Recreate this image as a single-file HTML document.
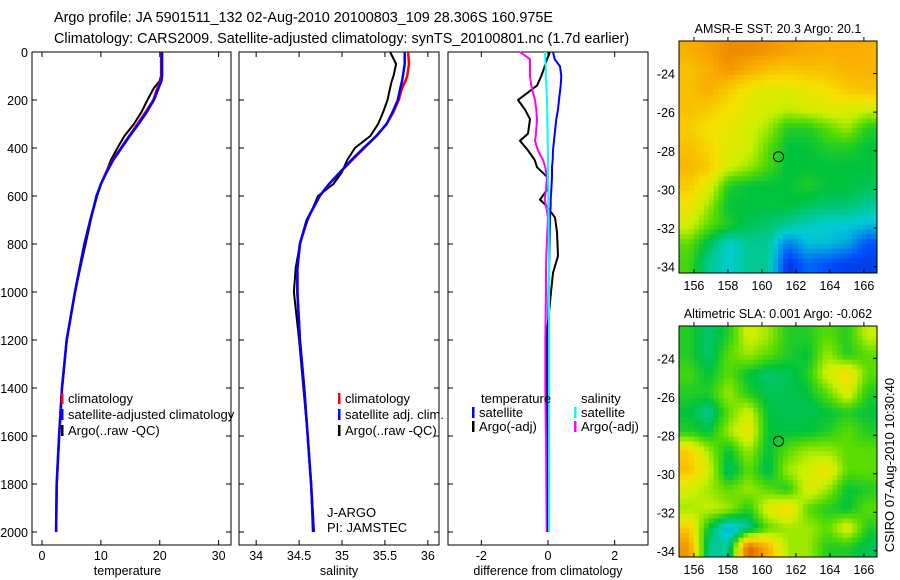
<!DOCTYPE html>
<html><head><meta charset="utf-8"><style>
body{margin:0;background:#fff;}
svg{display:block;font-family:"Liberation Sans",sans-serif;}
</style></head><body>
<svg id="fig" width="900" height="580" viewBox="0 0 900 580">
<text x="54" y="22" font-size="14.4">Argo profile: JA 5901511_132 02-Aug-2010 20100803_109 28.306S 160.975E</text>
<text x="54" y="43" font-size="14.4">Climatology: CARS2009. Satellite-adjusted climatology: synTS_20100801.nc (1.7d earlier)</text>
<text transform="translate(894,465) rotate(-90)" font-size="13" text-anchor="middle">CSIRO 07-Aug-2010 10:30:40</text>
</svg>
<script>
// ---- profile data ----
const depth = [0,50,100,120,150,200,250,300,350,400,450,500,550,600,700,800,900,1000,1200,1400,1600,1800,2000];
const tempClim = [20.3,20.3,20.3,20.2,19.6,18.9,17.6,16.2,14.8,13.4,12.0,10.9,10.0,9.3,8.2,7.2,6.4,5.6,4.2,3.4,2.9,2.5,2.4];
const tempSat  = [20.4,20.4,20.4,20.3,19.8,19.0,17.8,16.4,14.9,13.5,12.1,11.0,10.0,9.3,8.2,7.2,6.4,5.6,4.2,3.4,2.9,2.5,2.4];
const tempArgo = [20.2,20.2,20.2,20.0,19.0,17.9,16.9,15.6,14.0,12.8,11.7,10.9,10.0,9.2,8.3,7.4,6.5,5.6,4.2,3.4,2.9,2.5,2.4];
const salClim = [35.77,35.78,35.76,35.74,35.70,35.66,35.60,35.52,35.40,35.26,35.12,34.98,34.85,34.74,34.59,34.51,34.48,34.48,34.51,34.56,34.60,34.64,34.67];
const salSat  = [35.73,35.73,35.71,35.70,35.68,35.65,35.59,35.52,35.40,35.25,35.11,34.98,34.85,34.74,34.59,34.51,34.48,34.48,34.51,34.56,34.60,34.64,34.67];
const salArgo = [35.56,35.63,35.60,35.58,35.56,35.53,35.48,35.42,35.33,35.15,35.06,35.00,34.90,34.72,34.60,34.51,34.46,34.44,34.50,34.55,34.60,34.64,34.66];
const diffDepth = [0,30,60,100,140,200,240,280,340,370,410,450,480,520,575,615,640,690,750,850,920,1000,1200,1400,1600,1800,2000];
const dTempSat  = [0.15,0.2,0.36,0.4,0.38,0.33,0.3,0.25,0.2,0.18,0.15,0.14,0.12,0.12,0.1,0.08,0.08,0.06,0.05,0.04,0.03,0.02,0,0,0,0,0];
const dTempArgo = [0.06,-0.03,-0.1,-0.2,-0.33,-0.9,-0.69,-0.54,-0.6,-0.84,-0.6,-0.4,-0.33,-0.03,-0.03,-0.24,-0.05,0.21,0.27,0.3,0.15,0.09,-0.05,-0.04,-0.03,-0.02,0];
const dSalSat   = [-0.09,-0.08,-0.07,-0.06,-0.05,-0.03,-0.02,-0.02,-0.01,-0.01,0,0,0,0,0.01,0.01,0.01,0.02,0.02,0.03,0.03,0.03,0.03,0.03,0.03,0.03,0.03];
const dSalArgo  = [-0.84,-0.54,-0.54,-0.54,-0.5,-0.39,-0.35,-0.33,-0.36,-0.39,-0.3,-0.15,-0.08,-0.03,-0.06,-0.1,-0.06,0,-0.02,-0.05,-0.06,-0.06,-0.08,-0.08,-0.06,-0.05,-0.04];
const depthTicks = [0,200,400,600,800,1000,1200,1400,1600,1800,2000];
const tempTicks = [0,10,20,30];
const salTicks = [34,34.5,35,35.5,36];
const salTickLabels = ["34","34.5","35","35.5","36"];
const diffTicks = [-2,0,2];
// ---- map data (0..1 colour index) ----
const lonTicks = [156,158,160,162,164,166];
const latTicks = [-24,-26,-28,-30,-32,-34];
const sstGrid = [
[0.75,0.78,0.82,0.82,0.8,0.78,0.76,0.75,0.76,0.75],
[0.72,0.75,0.8,0.75,0.72,0.7,0.72,0.72,0.74,0.74],
[0.72,0.76,0.7,0.65,0.62,0.62,0.64,0.66,0.7,0.72],
[0.72,0.7,0.66,0.62,0.6,0.58,0.6,0.62,0.62,0.6],
[0.7,0.66,0.64,0.6,0.55,0.45,0.45,0.5,0.55,0.45],
[0.72,0.68,0.62,0.6,0.5,0.42,0.42,0.45,0.45,0.42],
[0.74,0.7,0.6,0.55,0.48,0.42,0.42,0.42,0.42,0.42],
[0.7,0.62,0.45,0.42,0.42,0.42,0.45,0.42,0.42,0.4],
[0.65,0.55,0.42,0.42,0.42,0.42,0.4,0.38,0.38,0.35],
[0.6,0.5,0.45,0.4,0.38,0.35,0.32,0.3,0.3,0.28],
[0.5,0.4,0.3,0.35,0.35,0.2,0.28,0.28,0.25,0.15],
[0.48,0.35,0.3,0.35,0.35,0.1,0.18,0.15,0.12,0.12]];
const slaGrid = [
[0.45,0.38,0.45,0.6,0.55,0.45,0.45,0.5,0.45,0.58],
[0.45,0.38,0.5,0.55,0.5,0.45,0.42,0.55,0.45,0.5],
[0.48,0.42,0.5,0.42,0.38,0.4,0.45,0.6,0.68,0.5],
[0.45,0.45,0.55,0.45,0.4,0.4,0.42,0.5,0.62,0.45],
[0.42,0.35,0.5,0.6,0.42,0.4,0.4,0.42,0.45,0.42],
[0.45,0.42,0.55,0.65,0.42,0.42,0.42,0.45,0.5,0.45],
[0.7,0.55,0.42,0.55,0.42,0.5,0.55,0.55,0.5,0.5],
[0.72,0.6,0.38,0.5,0.4,0.55,0.6,0.65,0.5,0.5],
[0.6,0.55,0.5,0.55,0.5,0.45,0.62,0.55,0.42,0.45],
[0.55,0.58,0.55,0.45,0.62,0.68,0.5,0.45,0.42,0.5],
[0.7,0.42,0.25,0.35,0.5,0.55,0.55,0.5,0.62,0.45],
[0.8,0.35,0.35,0.9,0.75,0.55,0.55,0.45,0.45,0.4]];
const argoLon = 160.975, argoLat = -28.306;

const NS="http://www.w3.org/2000/svg";
const svg=document.getElementById('fig');
function mk(tag,attrs,parent){const e=document.createElementNS(NS,tag);for(const k in attrs)e.setAttribute(k,attrs[k]);(parent||svg).appendChild(e);return e;}
function txt(x,y,s,size,anchor,parent){const t=mk('text',{x:x,y:y,'font-size':size,'text-anchor':anchor||'start'},parent);t.textContent=s;return t;}

const PT=52,PB=545;
const yD=d=>PT+d*0.24;
function panel(name,x0,x1,xmin,xmax,ticks,labels,xlabel,showY){
  const g=mk('g',{});
  
  
  const sx=v=>x0+(v-xmin)/(xmax-xmin)*(x1-x0);
  const fr=mk('rect',{x:x0,y:PT,width:x1-x0,height:PB-PT,fill:'none',stroke:'#000','stroke-width':1},g);
  
  
  ticks.forEach((t,i)=>{const x=sx(t);
    mk('line',{x1:x,x2:x,y1:PT,y2:PT+5,stroke:'#000'},g);
    mk('line',{x1:x,x2:x,y1:PB,y2:PB-5,stroke:'#000'},g);
    const l=txt(x,560,labels[i],12.5,'middle',g);
    
    });
  depthTicks.forEach(d=>{const y=yD(d);
    mk('line',{x1:x0,x2:x0+5,y1:y,y2:y,stroke:'#000'},g);
    mk('line',{x1:x1,x2:x1-5,y1:y,y2:y,stroke:'#000'},g);
    if(showY){const l=txt(28,y+5,String(d),12.5,'end',g);
      
      }});
  const xl=txt((x0+x1)/2+(name==='temperature-panel'?-4:0),575,xlabel,12.5,'middle',g);
  
  
  return {g,sx};
}
function series(p,ds,vals,color,w,name){
  const pts=ds.map((d,i)=>p.sx(vals[i]).toFixed(1)+','+yD(d).toFixed(1)).join(' ');
  const l=mk('polyline',{points:pts,fill:'none',stroke:color,'stroke-width':w,'stroke-linejoin':'round'},p.g);
  
  
}
function legend(g,x,y,color,label,name){
  if(color){mk('rect',{x:x,y:y-10,width:2.5,height:11,fill:color},g);}
  const t=txt(x+7,y,label,13,'start',g);
  
  
}
const defs=mk('defs',{});
const clip=mk('clipPath',{id:'c1'},defs);mk('rect',{x:0,y:0,width:239,height:580},clip);
// Panel 1
const p1=panel('temperature-panel',32,231,-1.7,32.1,tempTicks,tempTicks.map(String),'temperature',true);
series(p1,depth,tempArgo,'#000',2,'temp-argo-line');
series(p1,depth,tempClim,'#f00',2.5,'temp-climatology-line');
series(p1,depth,tempSat,'#00f',2.5,'temp-satellite-line');
const lg1=mk('g',{'clip-path':'url(#c1)'},p1.g);
legend(lg1,61,403,'#f00','climatology','legend-climatology');
legend(lg1,61,419,'#00f','satellite-adjusted climatology','legend-satellite-adjusted');
legend(lg1,61,435,'#000','Argo(..raw -QC)','legend-argo-raw');
// Panel 2
const p2=panel('salinity-panel',239,439,33.8,36.13,salTicks,salTickLabels,'salinity',false);
series(p2,depth,salArgo,'#000',2,'sal-argo-line');
series(p2,depth,salClim,'#f00',2.5,'sal-climatology-line');
series(p2,depth,salSat,'#00f',2.5,'sal-satellite-line');
legend(p2.g,338,403,'#f00','climatology','legend-sal-climatology');
legend(p2.g,338,419,'#00f','satellite adj. clim.','legend-sal-satellite');
legend(p2.g,338,435,'#000','Argo(..raw -QC)','legend-sal-argo');
legend(p2.g,320,517,null,'J-ARGO','j-argo-label');
legend(p2.g,320,532,null,'PI: JAMSTEC','pi-label');
// Panel 3
const p3=panel('difference-panel',448,648,-3,3,diffTicks,diffTicks.map(String),'difference from climatology',false);
mk('line',{x1:p3.sx(0),x2:p3.sx(0),y1:yD(280),y2:yD(620),stroke:'#000','stroke-dasharray':'1,3'},p3.g);
series(p3,diffDepth,dTempArgo,'#000',2,'diff-temp-argo-line');
series(p3,diffDepth,dSalArgo,'#f0f',2,'diff-sal-argo-line');
series(p3,diffDepth,dTempSat,'#00f',2,'diff-temp-satellite-line');
series(p3,diffDepth,dSalSat,'#0ff',2,'diff-sal-satellite-line');
legend(p3.g,474,403,null,'temperature','legend-temperature-header');
legend(p3.g,472,417,'#00f','satellite','legend-temp-satellite');
legend(p3.g,472,431,'#000','Argo(-adj)','legend-temp-argo');
legend(p3.g,574,403,null,'salinity','legend-salinity-header');
legend(p3.g,574,417,'#0ff','satellite','legend-sal-satellite-diff');
legend(p3.g,574,431,'#f0f','Argo(-adj)','legend-sal-argo-diff');

// colormap
const cstops=[[0,[0,0,140]],[0.15,[0,80,255]],[0.3,[0,205,210]],[0.42,[0,195,60]],[0.5,[90,220,0]],[0.58,[200,240,0]],[0.66,[245,225,0]],[0.76,[250,170,0]],[0.88,[225,110,0]],[1,[150,0,0]]];
function cmap(v){for(let i=1;i<cstops.length;i++){if(v<=cstops[i][0]){const a=cstops[i-1],b=cstops[i],f=(v-a[0])/(b[0]-a[0]);return 'rgb('+a[1].map((c,k)=>Math.round(c+(b[1][k]-c)*f)).join(',')+')';}}return 'rgb(150,0,0)';}
function sample(grid,fr,fc){
  const R=grid.length,C=grid[0].length;
  let r=Math.min(Math.max(fr,0),R-1),c=Math.min(Math.max(fc,0),C-1);
  const r0=Math.floor(r),c0=Math.floor(c),r1=Math.min(r0+1,R-1),c1=Math.min(c0+1,C-1),a=r-r0,b=c-c0;
  return grid[r0][c0]*(1-a)*(1-b)+grid[r0][c1]*(1-a)*b+grid[r1][c0]*a*(1-b)+grid[r1][c1]*a*b;
}
function map(name,y0,y1,grid,title){
  const x0=679,x1=877;
  const g=mk('g',{});
  
  
  const lonMin=155.12,lonMax=166.77;
  const sx=l=>x0+(l-lonMin)/(lonMax-lonMin)*(x1-x0);
  const ya=y0+(y1-y0)*0.14, yb=y1-(y1-y0)*0.027;
  const sy=la=>ya+(la+24)/(-10)*(yb-ya);
  const rows=grid.length,cols=grid[0].length,up=4;
  const cw=(x1-x0)/(cols*up),ch=(y1-y0)/(rows*up);
  for(let r=0;r<rows*up;r++)for(let c=0;c<cols*up;c++){
    const v=sample(grid,(r+0.5)/up-0.5,(c+0.5)/up-0.5);
    const cell=mk('rect',{x:(x0+c*cw).toFixed(2),y:(y0+r*ch).toFixed(2),width:(cw+0.4).toFixed(2),height:(ch+0.4).toFixed(2),fill:cmap(v)},g);
    
    
  }
  mk('rect',{x:x0,y:y0,width:x1-x0,height:y1-y0,fill:'none',stroke:'#000'},g);
  lonTicks.forEach(l=>{const x=sx(l);
    mk('line',{x1:x,x2:x,y1:y0,y2:y0-4,stroke:'#000'},g);
    mk('line',{x1:x,x2:x,y1:y1,y2:y1-4,stroke:'#000'},g);
    const t=txt(x,y1+17,String(l),12.5,'middle',g);
    
    });
  latTicks.forEach(la=>{const y=sy(la);
    mk('line',{x1:x1,x2:x1-4,y1:y,y2:y,stroke:'#000'},g);
    const t=txt(x0-4,y+5,String(la),12.5,'end',g);
    
    });
  const c=mk('circle',{cx:sx(argoLon),cy:sy(argoLat),r:5,fill:'none',stroke:'#000'},g);
  
  
  const t=txt(778,y0-8,title,12.5,'middle',g);
  
  
}
map('sst-map',41,273,sstGrid,'AMSR-E SST: 20.3 Argo: 20.1');
map('sla-map',326,557,slaGrid,'Altimetric SLA: 0.001  Argo: -0.062');
</script>
</body></html>
